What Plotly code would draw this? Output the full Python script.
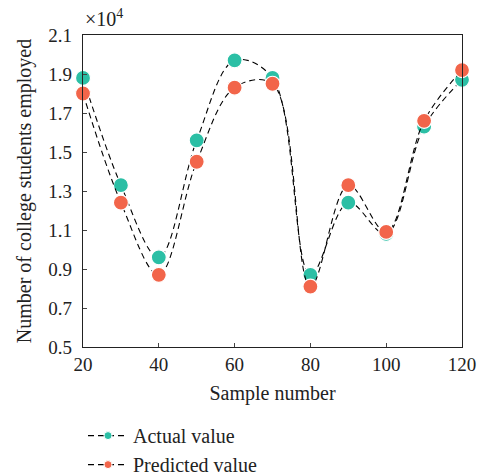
import plotly.graph_objects as go

samples = [20, 30, 40, 50, 60, 70, 80, 90, 100, 110, 120]
actual = [1.88, 1.33, 0.96, 1.56, 1.97, 1.88, 0.87, 1.24, 1.08, 1.63, 1.87]
predicted = [1.80, 1.24, 0.87, 1.45, 1.83, 1.85, 0.81, 1.33, 1.09, 1.66, 1.92]
y_ticks = [0.5, 0.7, 0.9, 1.1, 1.3, 1.5, 1.7, 1.9, 2.1]
x_ticks = [20, 40, 60, 80, 100, 120]

FONT = "Liberation Serif"
TEAL = "#2bbfa5"
ORANGE = "#f2654a"
fig = go.Figure()
for name, vals, col in [("Actual value", actual, TEAL), ("Predicted value", predicted, ORANGE)]:
    fig.add_trace(go.Scatter(
        x=samples, y=vals, name=name, mode="lines+markers", showlegend=False,
        line=dict(color="black", width=1.1, dash="6px,4px", shape="spline", smoothing=1.0),
        marker=dict(color=col, size=15, line=dict(color="white", width=1.2)),
        cliponaxis=False,
    ))
for name, col in [("Actual value", TEAL), ("Predicted value", ORANGE)]:
    fig.add_trace(go.Scatter(
        x=[None], y=[None], name=name, mode="lines+markers", showlegend=True,
        line=dict(color="black", width=1.1, dash="6px,4px"),
        marker=dict(color=col, size=8, line=dict(color="white", width=1)),
    ))
fig.update_layout(
    width=479, height=475,
    margin=dict(l=83, r=17, t=35, b=128, autoexpand=False),
    plot_bgcolor="white", paper_bgcolor="white",
    font=dict(family=FONT, size=19, color="#222"),
    showlegend=True,
    legend=dict(x=0.0, xanchor="left", yref="container", y=0.124, yanchor="top",
                font=dict(family=FONT, size=20), tracegroupgap=0,
                itemwidth=40, bgcolor="rgba(0,0,0,0)"),
    xaxis=dict(range=[20, 120], tickvals=x_ticks, ticks="inside", ticklen=4,
               showgrid=False, zeroline=False, showline=True, linecolor="#222",
               linewidth=1.2, mirror=True, tickfont=dict(size=19),
               title=dict(text="Sample number", font=dict(size=20), standoff=12)),
    yaxis=dict(range=[0.5, 2.1], tickvals=y_ticks, tickformat=".1f",
               ticks="inside", ticklen=4, showgrid=False, zeroline=False,
               showline=True, linecolor="#222", linewidth=1.2, mirror=True,
               tickfont=dict(size=19), ticklabelstandoff=6,
               title=dict(text="Number of college students employed",
                          font=dict(size=20), standoff=11)),
    annotations=[dict(text="×10<sup>4</sup>", xref="paper", yref="paper",
                      x=0, y=1.0, xanchor="left", yanchor="bottom", yshift=3,
                      showarrow=False, font=dict(family=FONT, size=20))],
)
fig.write_html("out.html")
